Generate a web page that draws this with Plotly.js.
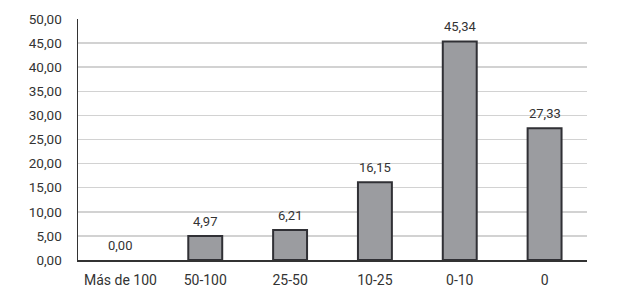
<!DOCTYPE html>
<html>
<head>
<meta charset="utf-8">
<script src="https://cdn.plot.ly/plotly-3.0.1.min.js"></script>
<style>html,body{margin:0;padding:0;background:#fff;}#chart{width:631px;height:296px;}</style>
</head>
<body>
<div id="chart"></div>
<script>
const categories = ["Más de 100", "50-100", "25-50", "10-25", "0-10", "0"];
const values = [0.00, 4.97, 6.21, 16.15, 45.34, 27.33];
const yTicks = [0, 5, 10, 15, 20, 25, 30, 35, 40, 45, 50];

const trace = {
  type: 'bar',
  x: categories,
  y: values,
  marker: {color: '#9b9ca0', line: {color: '#303035', width: values.map(v => v === 0 ? 0 : 2)}},
  hoverinfo: 'none'
};

const annotations = categories.map((c, i) => ({
  x: i, y: values[i], xref: 'x', yref: 'y',
  text: values[i].toFixed(2).replace('.', ','),
  showarrow: false, yanchor: 'bottom', yshift: 5,
  font: {family: 'Roboto, sans-serif', size: 13, color: '#333'}
}));

const layout = {
  width: 631, height: 296,
  margin: {l: 78, r: 44, t: 19, b: 36},
  paper_bgcolor: '#fff', plot_bgcolor: '#fff',
  separators: ',.',
  bargap: 0.6,
  showlegend: false,
  annotations: annotations,
  font: {family: 'Roboto, sans-serif', size: 13, color: '#333'},
  xaxis: {
    type: 'category',
    showline: true, linecolor: '#333', linewidth: 1.5,
    ticks: 'outside', ticklen: 7, tickcolor: 'rgba(0,0,0,0)',
    tickfont: {size: 14, color: '#333'},
    showgrid: false, zeroline: false, fixedrange: true
  },
  yaxis: {
    range: [0, 50],
    tickvals: yTicks,
    tickformat: '.2f',
    showline: true, linecolor: '#333', linewidth: 1.5,
    ticks: 'outside', ticklen: 12, tickcolor: 'rgba(0,0,0,0)',
    tickfont: {size: 13.5, color: '#333'},
    showgrid: true, gridcolor: '#d2d2d2', gridwidth: 1.5,
    zeroline: false, fixedrange: true
  }
};

Plotly.newPlot('chart', [trace], layout, {staticPlot: true});
</script>
</body>
</html>
